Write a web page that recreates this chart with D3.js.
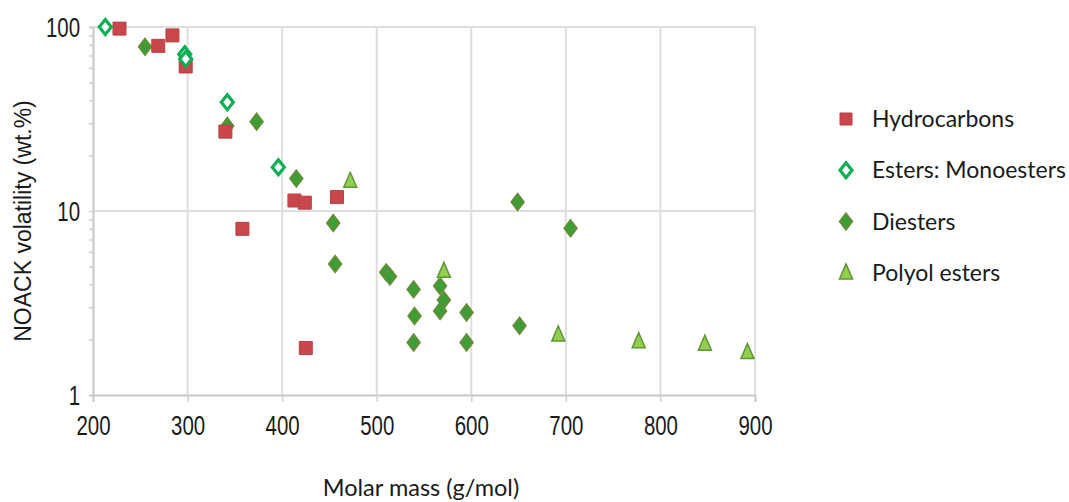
<!DOCTYPE html>
<html>
<head>
<meta charset="utf-8">
<script src="https://cdn.jsdelivr.net/npm/d3@7"></script>
<style>
  html, body { margin: 0; padding: 0; background: #ffffff; }
  svg { display: block; }
</style>
</head>
<body>
<svg id="chart" width="1069" height="502"></svg>
<script>
// Molar mass (g/mol) and NOACK volatility (wt.%) per lubricant base-stock family
const hydrocarbonMass = [228, 269, 284, 298, 340, 358, 413, 424, 458, 425];
const hydrocarbonNoack = [98, 79, 90, 61, 27, 8.0, 11.4, 11.1, 11.9, 1.8];

const monoesterMass = [213, 297, 298, 342, 396];
const monoesterNoack = [100, 71, 67, 39, 17.3];

const diesterMass = [255, 342, 373, 415, 454, 456, 510, 514, 539, 540, 539, 567, 571, 567, 595, 595, 649, 651, 705];
const diesterNoack = [78, 29, 30.6, 15.0, 8.6, 5.15, 4.64, 4.4, 3.75, 2.69, 1.93, 3.91, 3.28, 2.86, 2.81, 1.93, 11.2, 2.38, 8.05];

const polyolMass = [472, 571, 692, 777, 847, 892];
const polyolNoack = [14.5, 4.7, 2.12, 1.95, 1.89, 1.70];

const seriesNames = ["Hydrocarbons", "Esters: Monoesters", "Diesters", "Polyol esters"];
const xTickValues = [200, 300, 400, 500, 600, 700, 800, 900];
const yTickValues = [1, 10, 100];

const svg = d3.select("#chart");

const x = d3.scaleLinear().domain([200, 900]).range([93, 755]);
const y = d3.scaleLog().domain([1, 100]).range([395, 27]);

const tickFont = "'Liberation Sans', Arial, sans-serif";
const textFont = "Lato, 'Open Sans', sans-serif";
const tickSquash = "scale(0.73,1)";

// Grid lines
const grid = svg.append("g").attr("class", "grid");
grid.selectAll("line.v")
  .data(xTickValues.slice(1))
  .join("line")
  .attr("class", "v")
  .attr("x1", d => x(d)).attr("x2", d => x(d))
  .attr("y1", y(100)).attr("y2", y(1))
  .attr("stroke", "#dedede").attr("stroke-width", 2);
grid.selectAll("line.h")
  .data(yTickValues.slice(1))
  .join("line")
  .attr("class", "h")
  .attr("x1", x(200)).attr("x2", x(900))
  .attr("y1", d => y(d)).attr("y2", d => y(d))
  .attr("stroke", "#dedede").attr("stroke-width", 2);

// Bottom axis
const xAxis = svg.append("g")
  .attr("transform", `translate(0,${y(1)})`)
  .call(d3.axisBottom(x).tickValues(xTickValues).tickSize(7).tickPadding(13).tickFormat(d3.format("d")));
xAxis.select(".domain").attr("stroke", "#c8c8c8").attr("stroke-width", 2);
xAxis.selectAll(".tick line").attr("stroke", "#d0d0d0").attr("stroke-width", 1.5);
xAxis.selectAll(".tick text")
  .attr("fill", "#1a1a1a")
  .attr("transform", tickSquash)
  .style("font-family", tickFont)
  .style("font-size", "28px");

// Left axis: minor log ticks plus decade labels
const minorTicks = y.ticks();
const yAxis = svg.append("g")
  .attr("transform", `translate(${x(200)},0)`)
  .call(d3.axisLeft(y).tickValues(minorTicks).tickSize(4).tickFormat(""));
yAxis.select(".domain").attr("stroke", "#c8c8c8").attr("stroke-width", 2);
yAxis.selectAll(".tick line").attr("stroke", "#d0d0d0").attr("stroke-width", 1.5);

svg.append("g").selectAll("text")
  .data(yTickValues)
  .join("text")
  .attr("transform", d => `translate(80,${y(d)}) ${tickSquash}`)
  .attr("dy", "0.36em")
  .attr("text-anchor", "end")
  .attr("fill", "#1a1a1a")
  .style("font-family", tickFont)
  .style("font-size", "28px")
  .text(d => d);

// Axis titles
svg.append("text")
  .attr("transform", "translate(31,221) rotate(-90)")
  .attr("text-anchor", "middle")
  .attr("fill", "#1a1a1a")
  .style("font-family", "'Liberation Sans', Arial, sans-serif")
  .style("font-size", "23px")
  .text("NOACK volatility (wt.%)");

svg.append("text")
  .attr("x", 421)
  .attr("y", 496)
  .attr("text-anchor", "middle")
  .attr("fill", "#1a1a1a")
  .style("font-family", textFont)
  .style("font-size", "23.5px")
  .text("Molar mass (g/mol)");

// Marker shapes
const squarePath = s => `M${-s/2},${-s/2}h${s}v${s}h${-s}Z`;
const diamondPath = (w, h) => `M0,${-h/2}L${w/2},0L0,${h/2}L${-w/2},0Z`;
const trianglePath = (w, h) => `M0,${-h*0.6}L${w/2},${h*0.4}L${-w/2},${h*0.4}Z`;

const styles = [
  { path: squarePath(13), fill: "#c9474a", stroke: "#b94043", sw: 1 },
  { path: diamondPath(12, 15), fill: "#ffffff", stroke: "#0fae55", sw: 3.2 },
  { path: diamondPath(13, 17), fill: "#3f9d35", stroke: "#6b8c3a", sw: 1.5 },
  { path: trianglePath(13, 15), fill: "#93cf4f", stroke: "#5f9636", sw: 1.5 }
];

const seriesData = [
  d3.zip(hydrocarbonMass, hydrocarbonNoack),
  d3.zip(monoesterMass, monoesterNoack),
  d3.zip(diesterMass, diesterNoack),
  d3.zip(polyolMass, polyolNoack)
];

// Draw order: diesters and polyols beneath, then hydrocarbons, then monoesters on top
const drawOrder = [2, 3, 0, 1];
const plot = svg.append("g");
drawOrder.forEach(i => {
  const st = styles[i];
  plot.append("g").selectAll("path")
    .data(seriesData[i])
    .join("path")
    .attr("transform", d => `translate(${x(d[0])},${y(d[1])})`)
    .attr("d", st.path)
    .attr("fill", st.fill)
    .attr("stroke", st.stroke)
    .attr("stroke-width", st.sw)
    .attr("stroke-linejoin", "miter");
});

// Legend
const legend = svg.append("g");
const legendRows = legend.selectAll("g")
  .data(seriesNames)
  .join("g")
  .attr("transform", (d, i) => `translate(846,${119 + i * 51.3})`);
legendRows.append("path")
  .attr("d", (d, i) => i === 0 ? squarePath(12) : styles[i].path)
  .attr("fill", (d, i) => styles[i].fill)
  .attr("stroke", (d, i) => styles[i].stroke)
  .attr("stroke-width", (d, i) => styles[i].sw);
legendRows.append("text")
  .attr("x", 26)
  .attr("dy", "0.35em")
  .attr("fill", "#1a1a1a")
  .style("font-family", textFont)
  .style("font-size", "23px")
  .text(d => d);
</script>
</body>
</html>
